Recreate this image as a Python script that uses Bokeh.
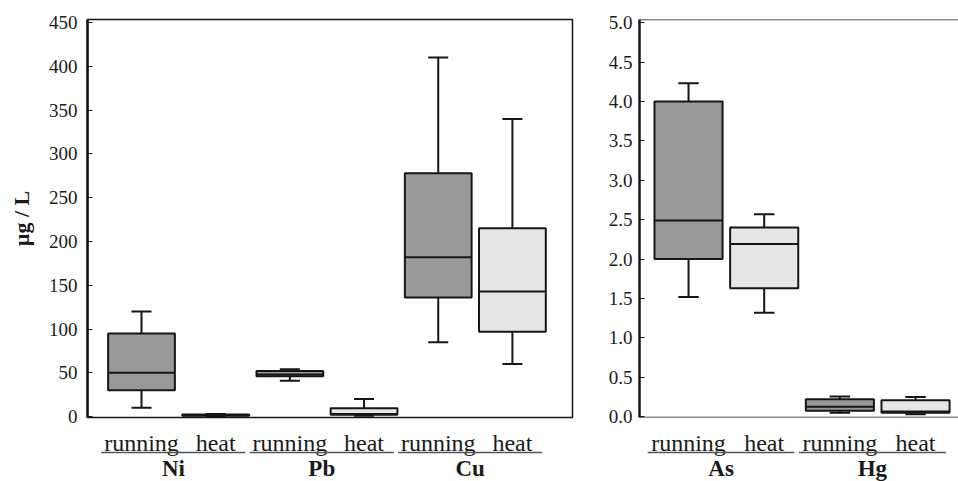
from bokeh.plotting import figure
from bokeh.layouts import row, column
from bokeh.models import (ColumnDataSource, FixedTicker, NumeralTickFormatter,
                          Span, Range1d)
from bokeh.core.properties import value
from bokeh.embed import file_html
from bokeh.resources import INLINE

# ---------------- data ----------------
conditions = ["running", "heat"]

left_metals = ["Ni", "Pb", "Cu"]
# order: Ni-running, Ni-heat, Pb-running, Pb-heat, Cu-running, Cu-heat
left_low = [10, 0.5, 41, 1, 85, 60]
left_q1 = [30, 1, 46, 2, 136, 97]
left_median = [50, 1.5, 48, 3, 182, 143]
left_q3 = [95, 2.5, 52, 9.5, 278, 215]
left_high = [120, 3, 54, 20, 410, 340]
left_ticks = [0, 50, 100, 150, 200, 250, 300, 350, 400, 450]

right_metals = ["As", "Hg"]
# order: As-running, As-heat, Hg-running, Hg-heat
right_low = [1.52, 1.32, 0.05, 0.03]
right_q1 = [2.0, 1.63, 0.075, 0.05]
right_median = [2.49, 2.19, 0.125, 0.065]
right_q3 = [4.0, 2.40, 0.22, 0.21]
right_high = [4.23, 2.57, 0.255, 0.25]
right_ticks = [0.0, 0.5, 1.0, 1.5, 2.0, 2.5, 3.0, 3.5, 4.0, 4.5, 5.0]

# ---------------- style ----------------
FONT = "Liberation Serif"
INK = "#161616"
TEXT = "#1a1a1a"
FILLS = {"running": "#999999", "heat": "#e6e6e6"}
BOX_W = 0.9
CAP_W = 0.27
TOP = 19
FRAME_H = 398
BOT = 11
LABEL_H = 53
COND_Y = 14.5    # baseline offsets within the label strip (px from its top)
LINE_Y = 24
GROUP_Y = 40


def make_panel(metals, low, q1, med, q3, high, ticks, yr, xr, width,
               border_left, border_right, fmt, ylabel=None, tick_standoff=10,
               full_outline=True):
    x_range = Range1d(*xr)
    p = figure(width=width, height=TOP + FRAME_H + BOT, output_backend="svg",
               toolbar_location=None, x_range=x_range, y_range=Range1d(*yr),
               min_border_left=border_left, min_border_right=border_right,
               min_border_top=TOP, min_border_bottom=BOT)
    p.background_fill_color = "white"
    p.border_fill_color = "white"
    p.xgrid.visible = False
    p.ygrid.visible = False
    p.xaxis.visible = False
    if full_outline:
        p.outline_line_color = INK
        p.outline_line_width = 1.5
    else:
        p.outline_line_color = None
        for loc in (yr[0], yr[1]):
            p.add_layout(Span(location=loc, dimension="width",
                              line_color=INK, line_width=1.5))

    ax = p.yaxis[0]
    ax.ticker = FixedTicker(ticks=ticks)
    ax.formatter = fmt
    ax.axis_line_color = INK
    ax.axis_line_width = 2.5
    ax.major_tick_in = 5
    ax.major_tick_out = 0
    ax.major_tick_line_color = INK
    ax.minor_tick_line_color = None
    ax.major_label_standoff = tick_standoff
    ax.major_label_text_font = FONT
    ax.major_label_text_font_size = "19px"
    ax.major_label_text_color = TEXT
    if ylabel:
        ax.axis_label = ylabel
        ax.axis_label_text_font = FONT
        ax.axis_label_text_font_style = "bold"
        ax.axis_label_text_font_size = "22px"
        ax.axis_label_text_color = TEXT
        ax.axis_label_standoff = 12

    n = len(metals) * len(conditions)
    xs = list(range(n))
    cond = [conditions[i % 2] for i in xs]
    src = ColumnDataSource(dict(
        x=xs, low=low, q1=q1, med=med, q3=q3, high=high,
        fill=[FILLS[c] for c in cond],
        bl=[x - BOX_W / 2 for x in xs], br=[x + BOX_W / 2 for x in xs],
        cl=[x - CAP_W / 2 for x in xs], cr=[x + CAP_W / 2 for x in xs],
    ))
    p.segment(x0="x", y0="low", x1="x", y1="q1", line_color=INK, line_width=2, source=src)
    p.segment(x0="x", y0="q3", x1="x", y1="high", line_color=INK, line_width=2, source=src)
    p.segment(x0="cl", y0="high", x1="cr", y1="high", line_color=INK, line_width=2, source=src)
    p.segment(x0="cl", y0="low", x1="cr", y1="low", line_color=INK, line_width=2, source=src)
    p.vbar(x="x", width=BOX_W, bottom="q1", top="q3", fill_color="fill",
           line_color=INK, line_width=2, source=src)
    p.segment(x0="bl", y0="med", x1="br", y1="med", line_color=INK, line_width=2, source=src)

    # category labels strip below the panel (y measured in pixels downward)
    lab = figure(width=width, height=LABEL_H, output_backend="svg",
                 toolbar_location=None, x_range=x_range,
                 y_range=Range1d(LABEL_H, 0),
                 min_border_left=border_left, min_border_right=border_right,
                 min_border_top=0, min_border_bottom=0)
    lab.axis.visible = False
    lab.grid.visible = False
    lab.outline_line_color = None
    lab.background_fill_color = "white"
    lab.border_fill_color = "white"

    lab.text(x=xs, y=[COND_Y] * n, text=cond, text_font=value(FONT),
             text_font_size="24px", text_color=TEXT, text_align="center",
             text_baseline="alphabetic")
    g_start = [2 * i - 0.54 for i in range(len(metals))]
    g_end = [2 * i + 1 + 0.4 for i in range(len(metals))]
    lab.segment(x0=g_start, y0=[LINE_Y] * len(metals), x1=g_end,
                y1=[LINE_Y] * len(metals), line_color="#555555", line_width=1.3)
    lab.text(x=[(a + b) / 2 for a, b in zip(g_start, g_end)],
             y=[GROUP_Y] * len(metals), text=metals, text_font=value(FONT),
             text_font_size="23px", text_font_style="bold", text_color=TEXT,
             text_align="center", text_baseline="alphabetic")
    return column(p, lab)


p1 = make_panel(left_metals, left_low, left_q1, left_median, left_q3, left_high,
                left_ticks, (-1, 453.5), (-0.728, 5.81), 578, 87, 6,
                NumeralTickFormatter(format="0"), ylabel="µg / L", tick_standoff=10)
p2 = make_panel(right_metals, right_low, right_q1, right_median, right_q3, right_high,
                right_ticks, (-0.01, 5.04), (-0.648, 3.568), 380, 61, 0,
                NumeralTickFormatter(format="0.0"), tick_standoff=7,
                full_outline=False)

layout = row(p1, p2)
open("out.html", "w").write(file_html(layout, INLINE))
